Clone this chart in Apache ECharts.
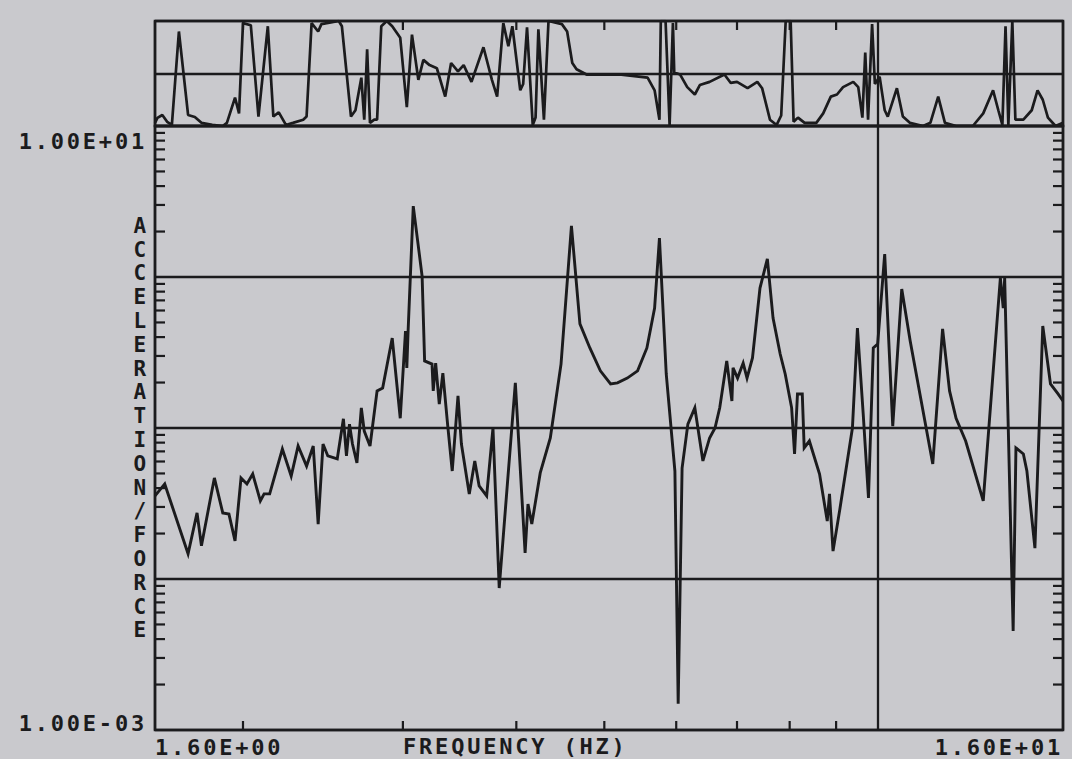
<!DOCTYPE html>
<html>
<head>
<meta charset="utf-8">
<script src="https://cdn.jsdelivr.net/npm/echarts@6.0.0/dist/echarts.min.js"></script>
<style>
html,body{margin:0;padding:0;background:#c9c9cd;}
#c{width:1072px;height:759px;}
#c svg text{letter-spacing:2.8px;}
</style>
</head>
<body>
<div id="c"></div>
<script>
// ---------------- DATA ----------------
// Main plot: acceleration / force magnitude vs frequency (Hz)
const mainFreqHz = [
  1.60,1.64,1.74,1.78,1.80,1.86,1.90,1.93,1.96,1.99,
  2.02,2.05,2.09,2.11,2.14,2.21,2.26,2.30,2.35,2.39,
  2.42,2.45,2.48,2.54,2.58,2.60,2.62,2.64,2.67,2.70,
  2.72,2.76,2.81,2.85,2.92,2.98,3.02,3.03,3.04,3.08,
  3.15,3.17,3.23,3.24,3.26,3.29,3.32,3.36,3.40,3.45,
  3.48,3.55,3.60,3.64,3.71,3.77,3.83,3.99,4.09,4.12,
  4.16,4.25,4.36,4.48,4.60,4.70,4.82,4.95,5.08,5.17,
  5.30,5.44,5.57,5.68,5.75,5.85,5.98,6.03,6.09,6.18,
  6.29,6.42,6.53,6.62,6.70,6.82,6.91,6.93,7.01,7.11,
  7.18,7.28,7.42,7.56,7.67,7.81,7.91,8.04,8.10,8.16,
  8.26,8.30,8.41,8.63,8.80,8.85,8.93,9.09,9.38,9.50,
  9.64,9.77,9.89,10.0,10.18,10.39,10.63,10.86,11.5,11.79,
  12.0,12.2,12.5,13.07,13.65,13.75,13.8,14.1,14.2,14.47,
  14.6,14.9,15.2,15.5,15.8,16.0
];
const mainAccelPerForce = [
  0.0355,0.0426,0.0147,0.0274,0.0166,0.0467,0.0274,0.0269,0.0179,0.0467,
  0.0426,0.0496,0.0329,0.0366,0.0366,0.0726,0.0481,0.0760,0.0560,0.0760,
  0.0231,0.0783,0.0653,0.0624,0.115,0.0653,0.106,0.0783,0.0587,0.136,
  0.0955,0.0760,0.176,0.184,0.394,0.116,0.439,0.250,0.439,2.95,
  1.01,0.278,0.265,0.176,0.269,0.144,0.231,0.106,0.0519,0.163,
  0.0783,0.0366,0.0605,0.0413,0.0355,0.100,0.00871,0.199,0.0149,0.0314,
  0.0231,0.0504,0.0859,0.265,2.18,0.489,0.339,0.239,0.196,0.199,
  0.214,0.239,0.339,0.623,1.81,0.228,0.0519,0.00149,0.0543,0.106,
  0.136,0.0605,0.0859,0.100,0.136,0.278,0.151,0.250,0.214,0.269,
  0.214,0.291,0.845,1.32,0.535,0.309,0.228,0.136,0.0673,0.168,
  0.168,0.0738,0.0820,0.0496,0.0242,0.0366,0.0153,0.0295,0.100,0.459,
  0.124,0.0344,0.339,0.360,1.42,0.103,0.833,0.377,0.0578,0.453,
  0.176,0.116,0.0820,0.0329,0.985,0.623,0.985,0.00453,0.0738,0.0673,
  0.0519,0.0160,0.474,0.196,0.168,0.151
];

// Top strip: coherence (0..1) vs frequency (Hz)
const cohFreqHz = [
  1.60,1.61,1.63,1.65,1.67,1.70,1.74,1.77,1.80,1.85,
  1.90,1.92,1.96,1.98,2.00,2.04,2.08,2.13,2.16,2.19,
  2.23,2.27,2.33,2.35,2.38,2.42,2.44,2.55,2.57,2.63,
  2.66,2.70,2.72,2.74,2.76,2.79,2.81,2.84,2.88,2.92,
  2.98,3.03,3.07,3.12,3.16,3.21,3.27,3.34,3.39,3.45,
  3.50,3.57,3.68,3.76,3.81,3.87,3.92,3.96,4.04,4.07,
  4.11,4.17,4.20,4.23,4.29,4.34,4.49,4.55,4.61,4.66,
  4.78,4.91,5.22,5.58,5.68,5.75,5.77,5.84,5.90,5.95,
  5.97,6.06,6.17,6.29,6.37,6.53,6.78,6.89,7.00,7.19,
  7.37,7.46,7.61,7.74,7.83,7.92,8.02,8.08,8.17,8.31,
  8.56,8.71,8.88,9.02,9.16,9.40,9.52,9.62,9.69,9.76,
  9.86,9.93,10.05,10.18,10.26,10.5,10.66,10.85,11.22,11.43,
  11.66,11.86,12.2,12.73,13.07,13.4,13.58,13.72,13.83,13.93,
  14.07,14.18,14.47,14.78,15.0,15.2,15.4,15.7,16.0
];
const cohValues = [
  0.03,0.077,0.105,0.04,0.01,0.90,0.105,0.086,0.03,0.01,
  0.0,0.03,0.27,0.12,0.98,0.96,0.09,0.95,0.09,0.13,
  0.01,0.03,0.06,0.09,0.98,0.90,0.97,1.0,0.95,0.09,
  0.15,0.46,0.06,0.73,0.03,0.06,0.06,0.95,1.0,0.95,
  0.84,0.18,0.87,0.44,0.63,0.58,0.55,0.28,0.60,0.52,
  0.58,0.42,0.75,0.44,0.28,0.98,0.76,0.95,0.34,0.40,
  0.94,0.01,0.08,0.92,0.06,1.0,0.97,0.90,0.60,0.54,
  0.49,0.49,0.49,0.46,0.34,0.06,1.0,1.0,0.01,0.98,
  0.51,0.49,0.37,0.30,0.39,0.42,0.49,0.41,0.42,0.36,
  0.42,0.36,0.06,0.01,0.10,1.0,1.0,0.04,0.08,0.03,
  0.03,0.12,0.28,0.30,0.37,0.42,0.37,0.08,0.70,0.06,
  0.97,0.40,0.47,0.15,0.09,0.36,0.09,0.03,0.0,0.03,
  0.28,0.03,0.0,0.0,0.12,0.34,0.15,0.01,0.95,0.01,
  1.0,0.06,0.06,0.15,0.34,0.25,0.08,0.0,0.03
];

// Axis ranges and tick labels
const xRange = [1.6, 16];
const yRange = [0.001, 10];
const cohRange = [0, 1];
const xTickLabels = ['1.60E+00', '1.60E+01'];   // at xRange[0], xRange[1]
const yTickLabels = ['1.00E-03', '1.00E+01'];   // at yRange[0], yRange[1]
const xMinorTicks = [2, 3, 4, 5, 6, 7, 8, 9];
const yDecades = [0.001, 0.01, 0.1, 1];
const yMinorMultipliers = [2, 3, 4, 5, 6, 7, 8, 9];
const xTitle = 'FREQUENCY (HZ)';
const yTitle = 'ACCELERATION/FORCE';

// ---------------- CHART ----------------
const INK = '#1b1b1d';
const FONT = '"DejaVu Sans Mono", "Liberation Mono", monospace';
const TICK_LEN = 10;
const GRID_W = 2.3;

const yMinorTicks = [];
yDecades.forEach(d => yMinorMultipliers.forEach(m => yMinorTicks.push(+(m * d).toPrecision(3))));

const near = (a, b) => Math.abs(Math.log10(a) - Math.log10(b)) < 1e-6;

const chart = echarts.init(document.getElementById('c'), null, { renderer: 'svg' });

const labelStyle = { fontFamily: FONT, fontWeight: 'bold', fontSize: 22, color: INK };

chart.setOption({
  backgroundColor: '#c9c9cd',
  animation: false,
  title: {
    text: xTitle, left: 403, top: 735, padding: 0,
    textStyle: labelStyle
  },
  grid: [
    { left: 155, right: 9, top: 126, bottom: 29, show: true, borderColor: INK, borderWidth: 2.6, backgroundColor: 'transparent' },
    { left: 155, right: 9, top: 21, height: 105, show: true, borderColor: INK, borderWidth: 2.6, backgroundColor: 'transparent' }
  ],
  xAxis: [
    {
      gridIndex: 0, type: 'log', logBase: 10, min: xRange[0], max: xRange[1],
      axisLine: { show: false }, axisTick: { show: false },
      axisLabel: {
        show: true, margin: 6, showMinLabel: true, showMaxLabel: true,
        alignMinLabel: 'left', alignMaxLabel: 'right',
        formatter: v => near(v, xRange[0]) ? xTickLabels[0] : (near(v, xRange[1]) ? xTickLabels[1] : ''),
        ...labelStyle
      },
      splitLine: { show: true, lineStyle: { color: INK, width: GRID_W } }
    },
    {
      gridIndex: 1, type: 'log', logBase: 10, min: xRange[0], max: xRange[1],
      axisLine: { show: false }, axisTick: { show: false }, axisLabel: { show: false },
      splitLine: { show: true, lineStyle: { color: INK, width: GRID_W } }
    }
  ],
  yAxis: [
    {
      gridIndex: 0, type: 'log', logBase: 10, min: yRange[0], max: yRange[1], splitNumber: 4,
      axisLine: { show: false }, axisTick: { show: false },
      axisLabel: {
        show: true, margin: 8, showMinLabel: true, showMaxLabel: true,
        verticalAlignMinLabel: 'bottom', verticalAlignMaxLabel: 'top',
        formatter: v => near(v, yRange[0]) ? '{b|' + yTickLabels[0] + '}' : (near(v, yRange[1]) ? '{t|' + yTickLabels[1] + '}' : ''),
        ...labelStyle,
        rich: {
          t: { ...labelStyle, padding: [4, 0, 0, 0] },
          b: { ...labelStyle, lineHeight: 13 }
        }
      },
      splitLine: { show: true, lineStyle: { color: INK, width: GRID_W } },
      name: yTitle.split('').join('\n'),
      nameLocation: 'middle', nameRotate: 0, nameGap: 6, nameMoveOverlap: false,
      nameTextStyle: { fontFamily: FONT, fontWeight: 'bold', fontSize: 21, lineHeight: 23.8, color: INK, padding: [0, 0, 10, 0] }
    },
    {
      gridIndex: 1, type: 'value', min: cohRange[0], max: cohRange[1], interval: 0.5,
      axisLine: { show: false }, axisTick: { show: false }, axisLabel: { show: false },
      splitLine: { show: true, lineStyle: { color: INK, width: GRID_W } }
    }
  ],
  series: [
    {
      type: 'line', xAxisIndex: 0, yAxisIndex: 0, silent: true,
      data: mainFreqHz.map((f, i) => [f, mainAccelPerForce[i]]),
      showSymbol: false, symbol: 'none',
      lineStyle: { color: INK, width: 2.9, join: 'miter' }
    },
    {
      type: 'line', xAxisIndex: 1, yAxisIndex: 1, silent: true,
      data: cohFreqHz.map((f, i) => [f, cohValues[i]]),
      showSymbol: false, symbol: 'none',
      lineStyle: { color: INK, width: 2.7 }
    },
    { // minor log ticks on left and right edges of main plot
      type: 'custom', xAxisIndex: 0, yAxisIndex: 0, silent: true, clip: false,
      data: yMinorTicks.map(v => [xRange[0], v]),
      encode: { x: 0, y: 1 },
      renderItem: (params, api) => {
        const v = api.value(1);
        const L = api.coord([xRange[0], v]);
        const R = api.coord([xRange[1], v]);
        return {
          type: 'group', children: [
            { type: 'line', shape: { x1: L[0], y1: L[1], x2: L[0] + TICK_LEN, y2: L[1] }, style: { stroke: INK, lineWidth: 2.2 } },
            { type: 'line', shape: { x1: R[0] - TICK_LEN, y1: R[1], x2: R[0], y2: R[1] }, style: { stroke: INK, lineWidth: 2.2 } }
          ]
        };
      }
    },
    { // frequency ticks on bottom of main plot
      type: 'custom', xAxisIndex: 0, yAxisIndex: 0, silent: true, clip: false,
      data: xMinorTicks.map(f => [f, yRange[0]]),
      encode: { x: 0, y: 1 },
      renderItem: (params, api) => {
        const p = api.coord([api.value(0), yRange[0]]);
        return { type: 'line', shape: { x1: p[0], y1: p[1], x2: p[0], y2: p[1] - 9 }, style: { stroke: INK, lineWidth: 2.2 } };
      }
    },
    { // frequency ticks on top of coherence strip
      type: 'custom', xAxisIndex: 1, yAxisIndex: 1, silent: true, clip: false,
      data: xMinorTicks.map(f => [f, cohRange[1]]),
      encode: { x: 0, y: 1 },
      renderItem: (params, api) => {
        const p = api.coord([api.value(0), cohRange[1]]);
        return { type: 'line', shape: { x1: p[0], y1: p[1], x2: p[0], y2: p[1] + 9 }, style: { stroke: INK, lineWidth: 2.2 } };
      }
    }
  ]
});
</script>
</body>
</html>
